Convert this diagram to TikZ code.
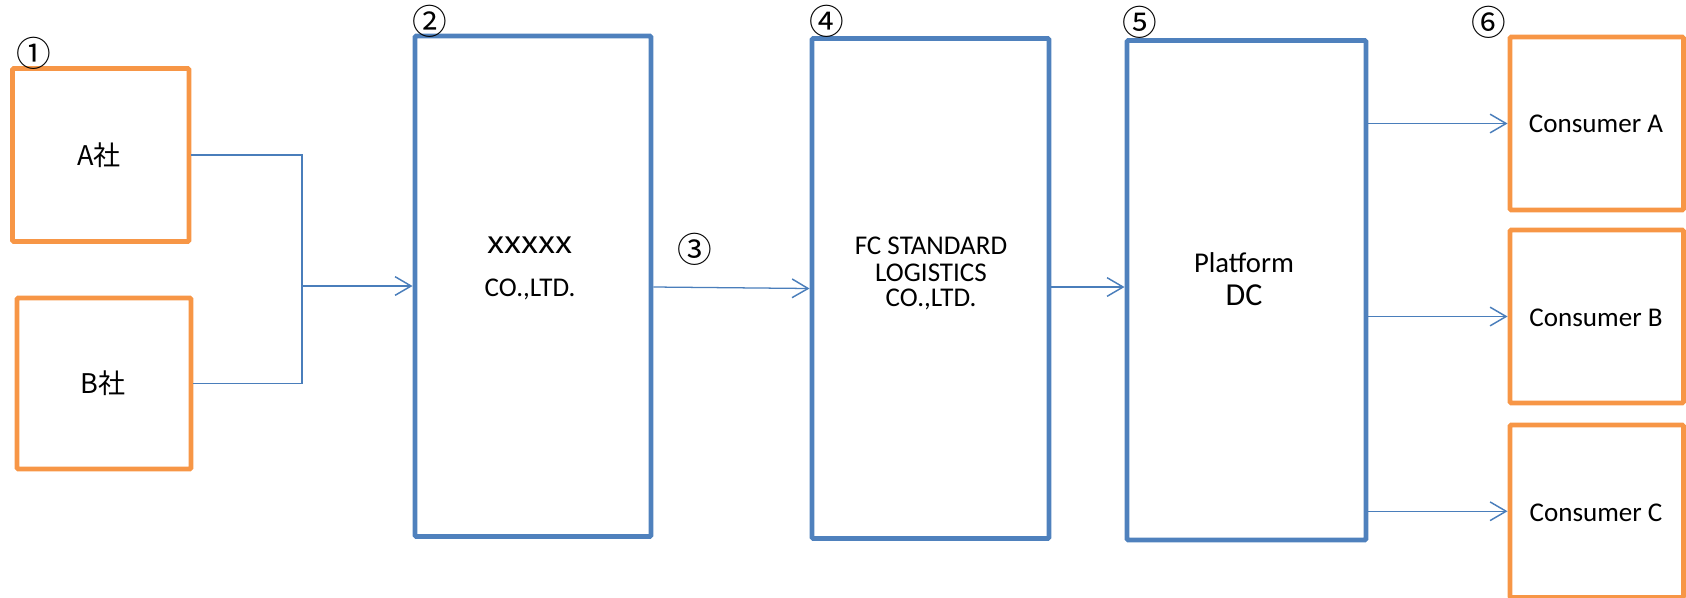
\documentclass[tikz,border=0pt]{standalone}
\usepackage{fontspec}
\setmainfont{Carlito}
\newfontfamily\cjk{Noto Sans CJK JP}
\usetikzlibrary{arrows.meta}
\definecolor{boxorange}{HTML}{F79646}
\definecolor{boxblue}{HTML}{4F81BD}
\definecolor{linkblue}{HTML}{4A7EBB}
\def\pxu{0.75pt}
\tikzset{
  obox/.style={draw=boxorange, line width=3.7pt, rectangle, rounded corners=1pt, inner sep=0pt},
  bbox/.style={draw=boxblue, line width=3.7pt, rectangle, rounded corners=1pt, inner sep=0pt},
  conn/.style={draw=linkblue, line width=0.95pt},
  connthick/.style={draw=linkblue, line width=1.6pt},
  barbtip/.style={-{Straight Barb[length=12pt,width=14pt,line width=1.1pt]}},
  lbl/.style={font=\fontsize{20.3}{20}\selectfont, inner sep=0pt, anchor=base},
  biglbl/.style={font=\fontsize{21.5}{20}\selectfont, inner sep=0pt, anchor=base},
  cjklbl/.style={font=\cjk\fontsize{20.3}{20}\selectfont, inner sep=0pt, anchor=base},
  num/.style={font=\cjk\fontsize{26}{26}\selectfont, inner sep=0pt},
}
\begin{document}
\begin{tikzpicture}[x=0.75pt,y=-0.75pt]
\useasboundingbox (0,0) rectangle (1686,597);
% boxes
\node[obox, minimum width=176.5*\pxu, minimum height=173*\pxu] (A) at (100.75,155) {};
\node[obox, minimum width=174*\pxu, minimum height=171*\pxu] (B) at (104,383.5) {};
\node[bbox, minimum width=236*\pxu, minimum height=500.5*\pxu] (X) at (533,286.25) {};
\node[bbox, minimum width=237*\pxu, minimum height=500*\pxu] (F) at (930.5,288.5) {};
\node[bbox, minimum width=239*\pxu, minimum height=499.5*\pxu] (P) at (1246.5,290.25) {};
\node[obox, minimum width=173.5*\pxu, minimum height=173*\pxu] (CA) at (1596.75,123.5) {};
\node[obox, minimum width=173.5*\pxu, minimum height=173*\pxu] (CB) at (1596.75,316.5) {};
\node[obox, minimum width=173.5*\pxu, minimum height=172.5*\pxu] (CC) at (1596.75,511.25) {};
% texts
\node[cjklbl] (tA) at (99,165) {A社};
\node[cjklbl] (tB) at (103,393) {B社};
\node[cjklbl, font=\cjk\fontsize{23}{23}\selectfont] (tX1) at (530,253) {\scalebox{1.12}[1]{xxxxx}};
\node[lbl] (tX2) at (530,296) {CO.,LTD.};
\node[lbl] (tF1) at (931,254.3) {FC STANDARD};
\node[lbl] (tF2) at (931,281) {LOGISTICS};
\node[lbl] (tF3) at (931,306.7) {CO.,LTD.};
\node[biglbl] (tP1) at (1244,272.7) {Platform};
\node[biglbl, font=\fontsize{24}{24}\selectfont] (tP2) at (1244,305) {DC};
\node[lbl] (tCA) at (1596,132) {Consumer A};
\node[lbl] (tCB) at (1596,326) {Consumer B};
\node[lbl] (tCC) at (1596,521.7) {Consumer C};
% numbers
\node[num] (n1) at (33.5,53) {①};
\node[num] (n2) at (430,21.3) {②};
\node[num] (n3) at (695,249) {③};
\node[num] (n4) at (827,21) {④};
\node[num] (n5) at (1140,22) {⑤};
\node[num] (n6) at (1489,22) {⑥};
% connectors
\coordinate (j) at (302,286);
\coordinate (m) at (0,287);
\draw[conn] (A.east) -| (j);
\draw[conn] (B.east) -| (j);
\draw[connthick, barbtip] (j) -- (X.west |- j);
\draw[conn, barbtip] (X.east |- m) -- (F.west);
\draw[connthick, barbtip] (F.east |- m) -- (P.west |- m);
\draw[conn, barbtip] (P.east |- CA.west) -- (CA.west);
\draw[conn, barbtip] (P.east |- CB.west) -- (CB.west);
\draw[conn, barbtip] (P.east |- CC.west) -- (CC.west);
\end{tikzpicture}
\end{document}
